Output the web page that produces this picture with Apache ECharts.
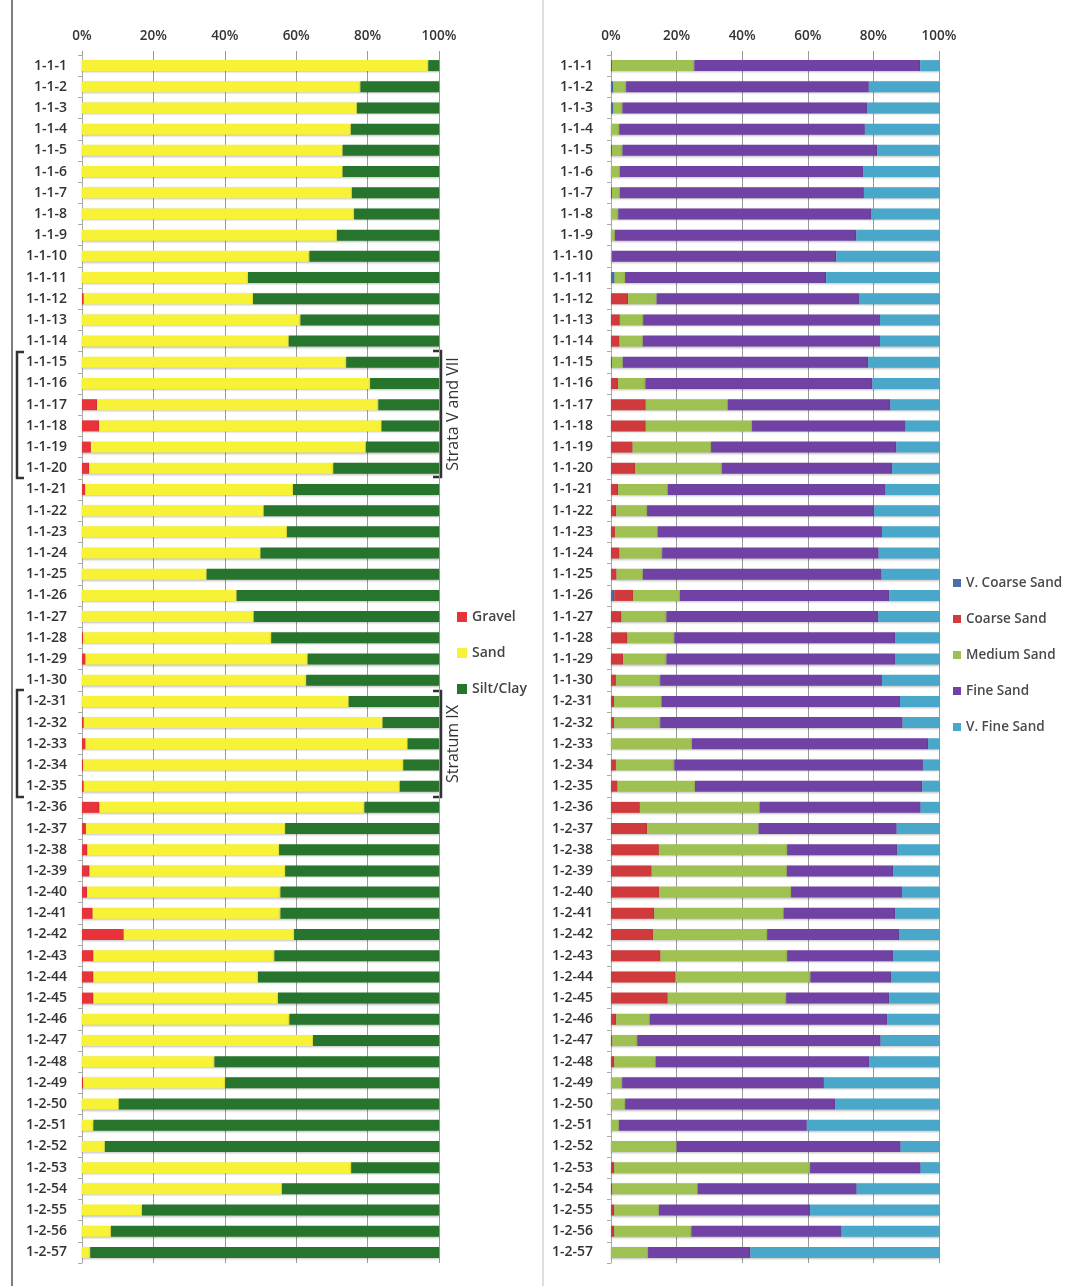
<!DOCTYPE html>
<html>
<head>
<meta charset="utf-8">
<script src="https://cdn.jsdelivr.net/npm/echarts@6/dist/echarts.min.js"></script>
<style>
html,body{margin:0;padding:0;background:#fff;}
#chart{width:1074px;height:1286px;}
</style>
</head>
<body>
<div id="chart"></div>
<script>
const categories = [
 '1-1-1','1-1-2','1-1-3','1-1-4','1-1-5','1-1-6','1-1-7','1-1-8','1-1-9','1-1-10',
 '1-1-11','1-1-12','1-1-13','1-1-14','1-1-15','1-1-16','1-1-17','1-1-18','1-1-19','1-1-20',
 '1-1-21','1-1-22','1-1-23','1-1-24','1-1-25','1-1-26','1-1-27','1-1-28','1-1-29','1-1-30',
 '1-2-31','1-2-32','1-2-33','1-2-34','1-2-35','1-2-36','1-2-37','1-2-38','1-2-39','1-2-40',
 '1-2-41','1-2-42','1-2-43','1-2-44','1-2-45','1-2-46','1-2-47','1-2-48','1-2-49','1-2-50',
 '1-2-51','1-2-52','1-2-53','1-2-54','1-2-55','1-2-56','1-2-57'
];
const xTickLabels = ['0%','20%','40%','60%','80%','100%'];

// Left panel: Gravel / Sand / Silt-Clay (%)
const gravel = [0,0,0,0,0,0,0,0,0,0, 0,0.5,0,0,0,0,4.2,4.8,2.5,2.0, 0.9,0,0,0,0,0,0,0.3,1.0,0,
 0,0.5,1.0,0.3,0.5,4.9,1.1,1.5,2.1,1.4, 3.0,11.7,3.2,3.2,3.2,0,0,0,0.3,0, 0,0,0,0,0,0,0];
const sand = [97,78,77,75.3,73,73,75.6,76.2,71.4,63.7, 46.5,47.4,61.2,57.9,74.0,80.7,78.8,79.1,77.0,68.4,
 58.2,50.9,57.4,50.0,34.9,43.3,48.1,52.7,62.2,62.8, 74.7,83.7,90.2,89.7,88.5,74.2,55.8,53.7,54.8,54.2,
 52.6,47.7,50.7,46.1,51.7,58.1,64.7,37.1,39.8,10.3, 3.2,6.4,75.4,56.0,16.8,8.1,2.3];
const siltClay = [3,22,23,24.7,27,27,24.4,23.8,28.6,36.3, 53.5,52.1,38.8,42.1,26.0,19.3,17.0,16.1,20.5,29.6,
 40.9,49.1,42.6,50.0,65.1,56.7,51.9,47.0,36.8,37.2, 25.3,15.8,8.8,10.0,11.0,20.9,43.1,44.8,43.1,44.4,
 44.4,40.6,46.1,50.7,45.1,41.9,35.3,62.9,59.9,89.7, 96.8,93.6,24.6,44.0,83.2,91.9,97.7];

// Right panel: sand fractions (%)
const vCoarseSand = [0,0.7,0.7,0,0,0,0,0,0,0, 1.1,0,0,0,0,0,0,0,0,0, 0,0,0,0,0,1.0,0,0,0,0,
 0,0,0,0,0,0,0,0,0,0, 0,0,0,0,0,0,0,0,0,0, 0,0,0,0,0,0,0];
const coarseSand = [0.3,0,0,0,0.3,0,0.3,0,0,0, 0,5.2,2.7,2.6,0.3,2.2,10.6,10.6,6.6,7.4,
 2.2,1.6,1.2,2.6,1.7,5.7,3.2,5.0,3.7,1.5, 1.0,1.0,0,1.5,2.0,8.8,11.0,14.6,12.4,14.7,
 13.2,12.8,15.1,19.7,17.3,1.6,0.4,1.0,0,0, 0,0,1.0,0.4,1.0,1.0,0];
const mediumSand = [25.1,3.9,2.8,2.5,3.2,2.7,2.4,2.2,1.2,0.3, 3.2,8.7,7.1,7.1,3.3,8.3,25.0,32.4,23.9,26.4,
 15.1,9.4,13.0,13.0,8.0,14.3,13.7,14.3,13.2,13.5, 14.4,14.0,24.7,17.8,23.6,36.5,34.0,39.1,41.2,40.2,
 39.4,34.8,38.6,41.1,36.1,10.2,7.6,12.6,3.4,4.3, 2.4,20.0,59.7,26.0,13.6,23.5,11.3];
const fineSand = [68.9,74.0,74.6,74.9,77.7,74.2,74.4,77.2,73.6,68.4, 61.3,61.7,72.2,72.3,74.8,69.2,49.6,46.8,56.5,51.9,
 66.4,69.2,68.4,66.0,72.8,63.8,64.6,67.3,69.7,67.6, 72.7,73.9,72.0,75.8,69.3,49.1,42.1,33.6,32.4,33.8,
 34.0,40.2,32.3,24.7,31.4,72.4,74.2,65.1,61.5,64.0, 57.3,68.3,33.7,48.5,46.1,45.8,31.2];
const vFineSand = [5.7,21.4,21.9,22.6,18.8,23.1,22.9,20.6,25.2,31.3, 34.4,24.4,18.0,18.0,21.6,20.3,14.8,10.2,13.0,14.3,
 16.3,19.8,17.4,18.4,17.5,15.2,18.5,13.4,13.4,17.4, 11.9,11.1,3.3,4.9,5.1,5.6,12.9,12.7,14.0,11.3,
 13.4,12.2,14.0,14.5,15.2,15.8,17.8,21.3,35.1,31.7, 40.3,11.7,5.6,25.1,39.3,29.7,57.5];

const FONT = '"Open Sans", "Liberation Sans", sans-serif';
const colors = {
  'Gravel':'#e8333b','Sand':'#f7f236','Silt/Clay':'#27742c',
  'V. Coarse Sand':'#4a6ea9','Coarse Sand':'#d03a3c','Medium Sand':'#9fc152',
  'Fine Sand':'#7042a3','V. Fine Sand':'#49a8c9'
};

const chart = echarts.init(document.getElementById('chart'), null, {renderer:'canvas'});

function xAxis(gi){
  return {
    gridIndex: gi, type:'value', position:'top', min:0, max:100, interval:20,
    axisLabel:{formatter:v=>xTickLabels[v/20], fontSize:13.5, fontWeight:600, color:'#333', fontFamily:FONT, margin:12},
    axisLine:{show:false},
    axisTick:{show:true, length:4, lineStyle:{color:'#999'}},
    splitLine:{show:true, lineStyle:{color:'#9a9a9a', width:1}}
  };
}
function yAxis(gi, margin){
  return {
    gridIndex: gi, type:'category', data:categories, inverse:true,
    axisLabel:{fontSize:14, fontWeight:600, color:'#333', fontFamily:FONT, margin:margin, interval:0},
    axisLine:{show:true, lineStyle:{color:'#aaa'}},
    axisTick:{show:true, length:4, lineStyle:{color:'#aaa'}}
  };
}
function bar(name, data, gi){
  return {
    name, type:'bar', stack:'s'+gi, xAxisIndex:gi, yAxisIndex:gi, data,
    barWidth:11,
    itemStyle:{color:colors[name], shadowColor:'rgba(0,0,0,0.25)', shadowBlur:2, shadowOffsetY:1},
    emphasis:{disabled:true}, animation:false
  };
}

const option = {
  backgroundColor:'#fff',
  animation:false,
  grid:[
    {left:82, top:55, width:357, height:1208},
    {left:611, top:55, width:328, height:1208}
  ],
  xAxis:[xAxis(0), xAxis(1)],
  yAxis:[yAxis(0, 15), yAxis(1, 18)],
  legend:[
    {data:['Gravel','Sand','Silt/Clay'], orient:'vertical', left:452, top:605, itemGap:22,
     icon:'rect', itemWidth:10, itemHeight:10,
     textStyle:{fontSize:14, fontWeight:600, color:'#444', fontFamily:FONT}, selectedMode:false},
    {data:['V. Coarse Sand','Coarse Sand','Medium Sand','Fine Sand','V. Fine Sand'], orient:'vertical',
     left:948, top:571, itemGap:22, icon:'rect', itemWidth:8, itemHeight:8,
     textStyle:{fontSize:13.5, fontWeight:600, color:'#4a4a4a', fontFamily:FONT}, selectedMode:false}
  ],
  series:[
    bar('Gravel', gravel, 0),
    bar('Sand', sand, 0),
    bar('Silt/Clay', siltClay, 0),
    bar('V. Coarse Sand', vCoarseSand, 1),
    bar('Coarse Sand', coarseSand, 1),
    bar('Medium Sand', mediumSand, 1),
    bar('Fine Sand', fineSand, 1),
    bar('V. Fine Sand', vFineSand, 1)
  ],
  graphic:[
    {type:'line', shape:{x1:12,y1:0,x2:12,y2:1286}, style:{stroke:'#555', lineWidth:1.5}, silent:true},
    {type:'line', shape:{x1:543,y1:0,x2:543,y2:1286}, style:{stroke:'#bbb', lineWidth:1}, silent:true},
    {type:'polyline', shape:{points:[[24,352],[17,352],[17,478],[24,478]]}, style:{stroke:'#333', lineWidth:2.5, fill:null}, silent:true},
    {type:'polyline', shape:{points:[[433,351],[441,351],[441,477],[433,477]]}, style:{stroke:'#333', lineWidth:2.5, fill:null}, silent:true},
    {type:'text', x:453, y:414, rotation:Math.PI/2, style:{text:'Strata V and VII', fontSize:16, fill:'#333', fontFamily:FONT, align:'center', verticalAlign:'middle'}, silent:true},
    {type:'polyline', shape:{points:[[24,690],[17,690],[17,797],[24,797]]}, style:{stroke:'#333', lineWidth:2.5, fill:null}, silent:true},
    {type:'polyline', shape:{points:[[433,691],[441,691],[441,797],[433,797]]}, style:{stroke:'#333', lineWidth:2.5, fill:null}, silent:true},
    {type:'text', x:453, y:744, rotation:Math.PI/2, style:{text:'Stratum IX', fontSize:16, fill:'#333', fontFamily:FONT, align:'center', verticalAlign:'middle'}, silent:true}
  ]
};
chart.setOption(option);
</script>
</body>
</html>
